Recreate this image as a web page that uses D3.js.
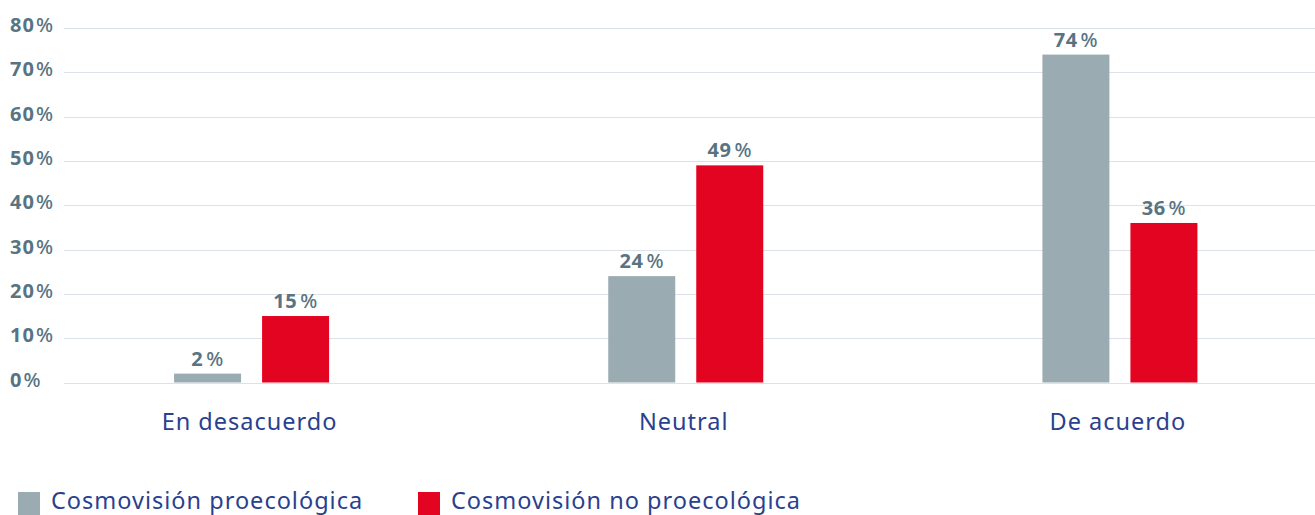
<!DOCTYPE html>
<html>
<head>
<meta charset="utf-8">
<script src="https://cdn.jsdelivr.net/npm/d3@7"></script>
<style>
  html, body { margin: 0; padding: 0; background: #ffffff; }
  svg { display: block; }
</style>
</head>
<body>
<svg id="chart" width="1315" height="515"></svg>
<script>
// Survey answers by worldview group (percent)
const categories = ["En desacuerdo", "Neutral", "De acuerdo"];
const seriesNames = ["Cosmovisión proecológica", "Cosmovisión no proecológica"];
const proecologica = [2, 24, 74];
const noProecologica = [15, 49, 36];
const yTicks = [0, 10, 20, 30, 40, 50, 60, 70, 80];

const colors = ["#9aabb1", "#e30421"];
const tickColor = "#587482";
const labelColor = "#2b3f8f";
const font = "'Noto Sans', 'Open Sans', sans-serif";

const rows = categories.map((c, i) => ({ cat: c, values: [proecologica[i], noProecologica[i]] }));

const svg = d3.select("#chart");
const W = 1315;

const y = d3.scaleLinear().domain([0, 80]).range([382.5, 28]);
const x0 = d3.scaleBand().domain(categories).range([34.5, 1337]).padding(0);
const barW = 67, barGap = 21;
const x1 = d3.scaleBand().domain([0, 1])
  .range([-(barW + barGap / 2), barW + barGap / 2])
  .paddingInner(barGap / (barW + barGap)).paddingOuter(0);

// Horizontal gridlines
svg.append("g").selectAll("line").data(yTicks).join("line")
  .attr("x1", 64).attr("x2", W)
  .attr("y1", d => Math.round(y(d)) + 0.5).attr("y2", d => Math.round(y(d)) + 0.5)
  .attr("stroke", "#dde2ea").attr("stroke-width", 1.2);

// Y tick labels
const yl = svg.append("g").selectAll("text").data(yTicks).join("text")
  .attr("x", 10).attr("y", d => y(d) + 4)
  .attr("font-family", font).attr("font-size", 20).attr("fill", tickColor)
  .attr("letter-spacing", 1);
yl.append("tspan").attr("font-weight", 700).text(d => d);
yl.append("tspan").attr("font-weight", 500).attr("dx", 1).text("%");

// Bars
const groups = svg.append("g").selectAll("g").data(rows).join("g")
  .attr("transform", d => `translate(${x0(d.cat) + x0.bandwidth() / 2},0)`);

groups.selectAll("rect").data(d => d.values.map((v, k) => ({ v, k }))).join("rect")
  .attr("x", d => x1(d.k)).attr("width", x1.bandwidth())
  .attr("y", d => y(d.v)).attr("height", d => y(0) - y(d.v))
  .attr("fill", d => colors[d.k]);

// Value labels above bars
const vl = groups.selectAll("text").data(d => d.values.map((v, k) => ({ v, k }))).join("text")
  .attr("x", d => x1(d.k) + x1.bandwidth() / 2).attr("y", d => y(d.v) - 8)
  .attr("text-anchor", "middle")
  .attr("font-family", font).attr("font-size", 20).attr("fill", tickColor)
  .attr("letter-spacing", 0.5);
vl.append("tspan").attr("font-weight", 700).text(d => d.v);
vl.append("tspan").attr("font-weight", 500).attr("dx", 3).text("%");

// Category labels
svg.append("g").selectAll("text").data(categories).join("text")
  .attr("x", d => x0(d) + x0.bandwidth() / 2 - 2).attr("y", 430)
  .attr("text-anchor", "middle")
  .attr("font-family", font).attr("font-size", 23.5).attr("fill", labelColor)
  .attr("letter-spacing", 1)
  .text(d => d);

// Legend
const legX = [18, 418];
const leg = svg.append("g").selectAll("g").data(seriesNames).join("g")
  .attr("transform", (d, i) => `translate(${legX[i]},0)`);
leg.append("rect").attr("x", 0).attr("y", 492).attr("width", 22).attr("height", 23)
  .attr("fill", (d, i) => colors[i]);
leg.append("text").attr("x", 33).attr("y", 509)
  .attr("font-family", font).attr("font-size", 23.5).attr("fill", labelColor)
  .attr("letter-spacing", 1)
  .text(d => d);
</script>
</body>
</html>
